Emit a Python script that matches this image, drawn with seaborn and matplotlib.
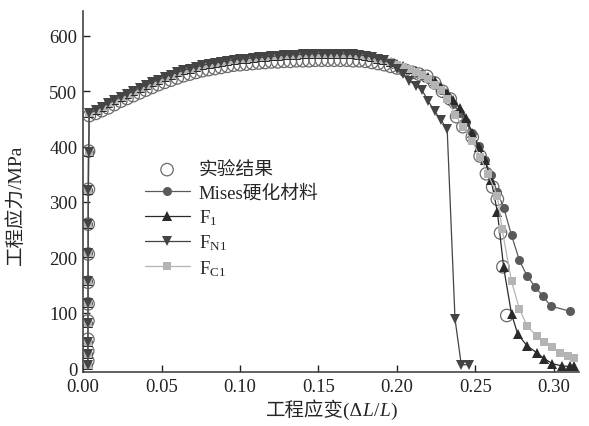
import numpy as np
import pandas as pd
import matplotlib
matplotlib.use("Agg")
import matplotlib.pyplot as plt
from matplotlib.offsetbox import TextArea, HPacker, AnchoredOffsetbox
import seaborn as sns

# elastic part (all curves nearly vertical near strain 0.003)
elastic_x = [0.0030, 0.0030, 0.0031, 0.0031, 0.0032, 0.0032, 0.0033, 0.0033, 0.0034, 0.0035]
elastic_exp = [13, 31, 52, 85, 116, 155, 206, 260, 323, 392]
elastic_sim = [5, 25, 48, 82, 118, 158, 207, 261, 322, 390]

# plastic plateau shared by the simulations
plateau_x = [0.004, 0.008, 0.012, 0.016, 0.020, 0.024, 0.028, 0.032, 0.036, 0.040,
             0.044, 0.048, 0.052, 0.056, 0.060, 0.064, 0.068, 0.072, 0.076, 0.080,
             0.084, 0.088, 0.092, 0.096, 0.100, 0.104, 0.108, 0.112, 0.116, 0.120,
             0.124, 0.128, 0.132, 0.136, 0.140, 0.144, 0.148, 0.152, 0.156, 0.160,
             0.164, 0.168, 0.172, 0.176, 0.180, 0.184, 0.188, 0.192]
plateau_sim = [460, 466, 472, 478, 484, 490, 495, 500, 506, 511,
               516, 521, 526, 530, 534, 538, 541, 544, 547, 549,
               551, 553, 555, 557, 558, 559, 560, 561, 562, 563,
               564, 565, 566, 566, 567, 567, 568, 568, 568, 568,
               568, 567, 567, 566, 564, 562, 559, 556]
plateau_exp = [456, 460, 465, 470, 476, 482, 487, 492, 497, 502,
               507, 512, 516, 520, 524, 528, 531, 534, 537, 539,
               541, 543, 545, 547, 548, 549, 550, 551, 552, 553,
               553, 554, 554, 555, 555, 555, 556, 556, 556, 556,
               556, 556, 555, 555, 554, 552, 550, 548]

# tails after necking
exp_tail_x = [0.196, 0.200, 0.205, 0.210, 0.214, 0.219, 0.224, 0.229, 0.234, 0.238,
              0.242, 0.248, 0.253, 0.257, 0.261, 0.264, 0.266, 0.2675, 0.270]
exp_tail_y = [545, 542, 538, 534, 531, 527, 515, 500, 486, 454,
              436, 417, 383, 351, 327, 305, 244, 183, 95]

mises_tail_x = [0.196, 0.200, 0.204, 0.208, 0.212, 0.216, 0.220, 0.224, 0.228, 0.232,
                0.236, 0.240, 0.244, 0.248, 0.252, 0.256, 0.260, 0.264, 0.268, 0.273,
                0.278, 0.283, 0.288, 0.293, 0.298, 0.310]
mises_tail_y = [552, 548, 544, 540, 535, 529, 522, 513, 503, 491,
                477, 461, 444, 424, 401, 376, 348, 318, 290, 240,
                195, 166, 147, 130, 112, 103]

f1_tail_x = [0.196, 0.200, 0.204, 0.208, 0.212, 0.216, 0.220, 0.224, 0.228, 0.232,
             0.236, 0.240, 0.244, 0.248, 0.252, 0.256, 0.260, 0.264, 0.268, 0.273,
             0.277, 0.283, 0.289, 0.294, 0.299, 0.305, 0.310, 0.313]
f1_tail_y = [553, 549, 545, 541, 537, 532, 526, 518, 508, 497,
             485, 470, 452, 425, 400, 375, 340, 282, 182, 98,
             61, 40, 28, 17, 8, 4, 3, 3]

fn1_tail_x = [0.196, 0.200, 0.204, 0.208, 0.212, 0.216, 0.220, 0.224, 0.228, 0.232,
              0.237, 0.241, 0.246]
fn1_tail_y = [550, 540, 532, 519, 510, 502, 482, 464, 448, 432,
              89, 6, 6]

fc1_tail_x = [0.196, 0.200, 0.204, 0.208, 0.212, 0.216, 0.220, 0.224, 0.228, 0.232,
              0.237, 0.242, 0.248, 0.253, 0.258, 0.264, 0.267, 0.273, 0.278, 0.283,
              0.289, 0.294, 0.299, 0.304, 0.309, 0.313]
fc1_tail_y = [552, 548, 544, 540, 535, 530, 522, 512, 502, 486,
              458, 436, 410, 381, 351, 311, 251, 157, 107, 76,
              58, 47, 38, 27, 22, 18]

FAMILY = ["Liberation Serif", "Noto Sans CJK SC"]


def curve(tx, ty, exp=False):
    base = plateau_exp if exp else plateau_sim
    el = elastic_exp if exp else elastic_sim
    return pd.DataFrame({"strain": elastic_x + plateau_x + tx,
                         "stress": el + base + ty})


sns.set_style("ticks")
plt.rcParams["font.family"] = FAMILY
plt.rcParams["mathtext.fontset"] = "custom"
plt.rcParams["mathtext.rm"] = "Liberation Serif"
plt.rcParams["mathtext.it"] = "Liberation Serif:italic"

fig = plt.figure(figsize=(5.89, 4.27), dpi=100)
ax = fig.add_axes([0.141, 0.1265, 0.842, 0.8455])

exp_df = curve(exp_tail_x, exp_tail_y, exp=True)
sns.scatterplot(data=exp_df, x="strain", y="stress", ax=ax, marker="o", s=80,
                facecolors="none", edgecolors="#6a6a6a", linewidths=0.9,
                label="实验结果", zorder=2)

lw = 0.9
sns.lineplot(data=curve(mises_tail_x, mises_tail_y), x="strain", y="stress", ax=ax,
             sort=False, estimator=None, color="#5a5a5a", lw=lw, marker="o",
             markersize=6.5, markeredgewidth=0, label="Mises硬化材料", zorder=3)
sns.lineplot(data=curve(f1_tail_x, f1_tail_y), x="strain", y="stress", ax=ax,
             sort=False, estimator=None, color="#2a2a2a", lw=lw, marker="^",
             markersize=7, markeredgewidth=0, label=r"F$_1$", zorder=4)
sns.lineplot(data=curve(fc1_tail_x, fc1_tail_y), x="strain", y="stress", ax=ax,
             sort=False, estimator=None, color="#b4b4b4", lw=lw, marker="s",
             markersize=5.5, markeredgewidth=0, label=r"F$_{\rm C1}$", zorder=5)
sns.lineplot(data=curve(fn1_tail_x, fn1_tail_y), x="strain", y="stress", ax=ax,
             sort=False, estimator=None, color="#444444", lw=lw, marker="v",
             markersize=7, markeredgewidth=0, label=r"F$_{\rm N1}$", zorder=6)

handles, labels = ax.get_legend_handles_labels()
order = ["实验结果", "Mises硬化材料", r"F$_1$", r"F$_{\rm N1}$", r"F$_{\rm C1}$"]
hmap = dict(zip(labels, handles))
ax.legend([hmap[k] for k in order], order, loc="upper left",
          bbox_to_anchor=(0.09, 0.63), frameon=False, fontsize=13.5,
          handlelength=2.4, labelspacing=0.3, handletextpad=0.5)

ax.set_xlim(0, 0.316)
ax.set_ylim(-7, 645)
ax.set_xticks(np.arange(0, 0.31, 0.05))
ax.set_xticklabels([f"{v:.2f}" for v in np.arange(0, 0.31, 0.05)])
ax.set_yticks(np.arange(0, 601, 100))
ax.tick_params(direction="in", length=5, width=1, labelsize=13.5, colors="#222222",
               pad=4)
for sp in ["left", "bottom"]:
    ax.spines[sp].set_linewidth(1.2)
    ax.spines[sp].set_color("#444444")
sns.despine(ax=ax)

# x label: Chinese text plus italic L, built from pieces
parts = [("工程应变(Δ", "normal"), ("L", "italic"), ("/", "normal"),
         ("L", "italic"), (")", "normal")]
pieces = [TextArea(t, textprops=dict(fontsize=14, style=s, family=FAMILY))
          for t, s in parts]
xbox = HPacker(children=pieces, align="baseline", pad=0, sep=0)
ax.add_artist(AnchoredOffsetbox(loc="upper center", child=xbox, frameon=False,
                                bbox_to_anchor=(0.5, -0.072),
                                bbox_transform=ax.transAxes, borderpad=0, pad=0))

ax.set_xlabel("")
ax.set_ylabel("工程应力/MPa", fontsize=14)
ax.yaxis.set_label_coords(-0.117, 0.465)

fig.savefig("out.png", dpi=100)
